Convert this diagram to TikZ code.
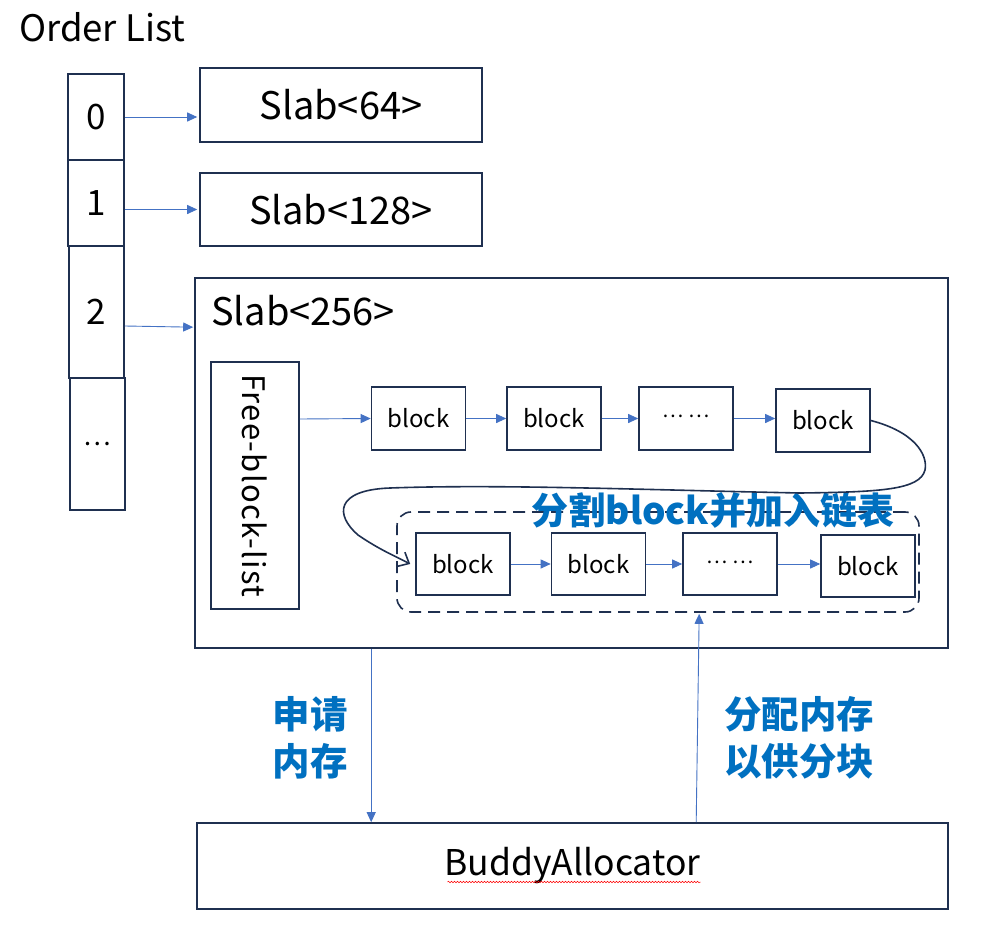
\documentclass[tikz,border=0pt]{standalone}
\usepackage{fontspec}
\setmainfont{Noto Sans CJK SC}
\usetikzlibrary{arrows.meta,decorations.pathmorphing}
\definecolor{navy}{HTML}{1F3050}
\definecolor{arrowblue}{HTML}{4472C4}
\definecolor{textblue}{HTML}{0070C0}
\begin{document}
\begin{tikzpicture}[x=1pt,y=-1pt,
  box/.style={draw=navy,line width=1.6pt,inner sep=0pt},
  blk/.style={box,minimum width=94pt,minimum height=62pt,font=\fontsize{24}{24}\selectfont},
  dotsblk/.style={blk,font=\fontsize{20}{20}\selectfont},
  lnk/.style={draw=arrowblue,line width=0.9pt,-{Triangle[length=10pt,width=9pt]}},
  bluetxt/.style={text=textblue,font=\fontsize{37.5}{47}\selectfont\bfseries,align=left,inner sep=0pt}]
\useasboundingbox (0,0) rectangle (1005,934);
\fill[white] (0,0) rectangle (1005,934);

\node[anchor=west,inner sep=0pt,font=\fontsize{36.5}{36}\selectfont] (ol) at (19,27) {Order List};

\node[box,minimum width=56pt,minimum height=86pt,font=\fontsize{35}{35}\selectfont] (c0) at (96,117) {0};
\node[box,minimum width=56pt,minimum height=86pt,font=\fontsize{35}{35}\selectfont] (c1) at (96,203) {1};
\node[box,minimum width=55pt,minimum height=132pt,font=\fontsize{35}{35}\selectfont] (c2) at (96.5,312) {2};
\node[box,minimum width=55pt,minimum height=132pt,font=\fontsize{26}{26}\selectfont] (c3) at (97.5,444) {…};

\node[box,minimum width=282pt,minimum height=74pt,font=\fontsize{38}{38}\selectfont] (s64) at (341,105) {Slab<64>};
\node[box,minimum width=282pt,minimum height=73pt,font=\fontsize{38}{38}\selectfont] (s128) at (341,209.5) {Slab<128>};
\node[box,minimum width=753pt,minimum height=370pt] (s256) at (571.5,463) {};
\node[anchor=west,inner sep=0pt,font=\fontsize{38}{38}\selectfont] (s256l) at (211,311) {Slab<256>};

\node[box,minimum width=88pt,minimum height=247pt] (fbl) at (255,485.5) {};
\node[rotate=-90,inner sep=0pt,font=\fontsize{31}{31}\selectfont\addfontfeature{LetterSpace=4}] (fbltxt) at (fbl.center) {Free-block-list};

\node[blk,minimum height=63pt] (t1) at (418.5,418.5) {block};
\node[blk,minimum height=63pt] (t2) at (554,418.5) {block};
\node[dotsblk,minimum height=63pt] (t3) at (686,418.5) {\raisebox{4pt}{…\hspace{5pt}…}};
\node[blk,minimum height=63pt] (t4) at (823,420.5) {block};

\node[draw=navy,line width=1.6pt,dash pattern=on 12pt off 7pt,rounded corners=14pt,minimum width=522pt,minimum height=100pt] (grp) at (658,562) {};

\node[blk] (b1) at (463,564) {block};
\node[blk] (b2) at (598.5,564) {block};
\node[dotsblk] (b3) at (730,564) {\raisebox{4pt}{…\hspace{5pt}…}};
\node[blk] (b4) at (868,566) {block};

\node[text=textblue,inner sep=0pt,font=\fontsize{37}{37}\selectfont\bfseries] (title) at (713,510) {分割block并加入链表};

\node[box,minimum width=751pt,minimum height=86pt,font=\fontsize{35.5}{35}\selectfont] (buddy) at (572.5,866) {BuddyAllocator};

\node[bluetxt] (req) at (310,738) {申请\\内存};
\node[bluetxt] (alloc) at (799,738) {分配内存\\以供分块};

% order list links
\draw[lnk,shorten >=2pt] (c0.east) -- (s64.west |- c0.east);
\draw[lnk,shorten >=2pt] (c1.east |- s128.west) -- (s128.west);
\draw[lnk,shorten >=1pt] ([yshift=-14pt]c2.east) -- ([yshift=-50pt]s256.north west);

% free block list
\draw[lnk] ([yshift=66.5pt]fbl.east) -- (t1.west);
\draw[lnk] (t1.east) -- (t2.west);
\draw[lnk] (t2.east) -- (t3.west);
\draw[lnk] (t3.east) -- (t4.west |- t3.east);
\draw[lnk] (b1.east) -- (b2.west);
\draw[lnk] (b2.east) -- (b3.west);
\draw[lnk] (b3.east) -- (b4.west |- b3.east);

% curve
\coordinate (cend) at ([xshift=-5pt]b1.west);
\draw[navy,line width=1.6pt,-{Straight Barb[length=9pt,width=16pt]}]
  (t4.east) .. controls (915,432) and (928,455) .. (925,470)
  .. controls (920,490) and (880,492) .. (800,493)
  .. controls (650,490) and (500,484) .. (390,488)
  .. controls (335,490) and (335,515) .. (358,535)
  .. controls (380,550) and (395,556) .. (cend);

% buddy arrows
\draw[lnk] ([xshift=177pt]s256.south west) -- ([xshift=175pt]buddy.north west);
\draw[lnk,shorten >=1pt] ([xshift=500pt]buddy.north west) -- ([xshift=303pt]grp.south west);

% spell-check underline
\draw[red,line width=0.5pt,decorate,decoration={snake,amplitude=0.8pt,segment length=3pt}]
  ([xshift=-125pt,yshift=-16pt]buddy.center) -- ([xshift=128pt,yshift=-16pt]buddy.center);
\end{tikzpicture}
\end{document}
